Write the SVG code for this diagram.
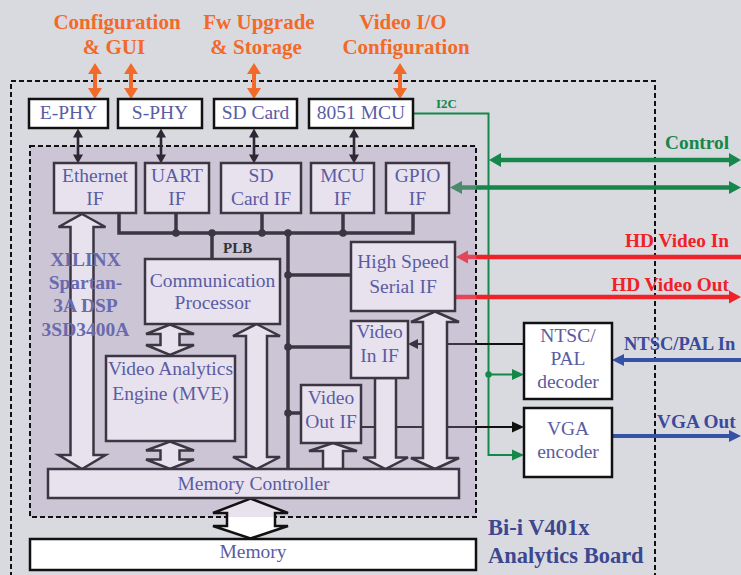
<svg xmlns="http://www.w3.org/2000/svg" width="741" height="575" viewBox="0 0 741 575">
<style>
.bg{fill:#d9dadf}
.dash{fill:none;stroke:#111;stroke-width:2;stroke-dasharray:5 3}
.fpga{fill:#cbc5d6;stroke:#111;stroke-width:2;stroke-dasharray:5 3}
.wbox{fill:#fff;stroke:#111;stroke-width:2.5}
.lbox{fill:#e8e2ee;stroke:#3b3641;stroke-width:2.5}
.blk{fill:#e8e2ee;stroke:#3b3641;stroke-width:2.5;stroke-linejoin:miter}
.t{font-family:"Liberation Serif","Times New Roman",serif;font-size:19.5px;fill:#5a5ca3;text-anchor:middle}
.bus{fill:none;stroke:#3b3641;stroke-width:3.5}
.dot{fill:#3b3641}
.org{font-family:"Liberation Serif","Times New Roman",serif;font-size:21px;font-weight:bold;fill:#f26a2a;text-anchor:middle}
.oarr{fill:#f26a2a}
.karr{fill:#2d2833}
.grn{fill:none;stroke:#15874a;stroke-width:2}
.grnf{fill:#15874a}
.rl{font-family:"Liberation Serif","Times New Roman",serif;font-size:19.3px;font-weight:bold}
.xil{font-family:"Liberation Serif","Times New Roman",serif;font-size:19.5px;font-weight:bold;fill:#6a6aae;text-anchor:middle}
</style>
<defs>
<path id="oa" d="M0,0 L7,11 L2,11 L2,25 L7,25 L0,36 L-7,25 L-2,25 L-2,11 L-7,11 Z"/>
<path id="ka" d="M0,0 L5,9 L1.3,9 L1.3,26 L5,26 L0,35 L-5,26 L-1.3,26 L-1.3,9 L-5,9 Z"/>
<linearGradient id="memgrad" gradientUnits="userSpaceOnUse" x1="0" y1="498.5" x2="0" y2="538.5">
<stop offset="0" stop-color="#e8e2ee"/><stop offset="0.46" stop-color="#e8e2ee"/><stop offset="0.46" stop-color="#fff"/><stop offset="1" stop-color="#fff"/>
</linearGradient>
</defs>
<rect class="bg" x="0" y="0" width="741" height="575"/>
<rect class="dash" x="11" y="81" width="644" height="560"/>
<rect class="fpga" x="30" y="146" width="446" height="371"/>

<g id="connectors">
<use href="#oa" class="oarr" x="95" y="63"/>
<use href="#oa" class="oarr" x="131" y="63"/>
<use href="#oa" class="oarr" x="254" y="63"/>
<use href="#oa" class="oarr" x="400" y="63"/>
<use href="#ka" class="karr" x="78" y="128.5"/>
<use href="#ka" class="karr" x="161" y="128.5"/>
<use href="#ka" class="karr" x="254" y="128.5"/>
<use href="#ka" class="karr" x="354" y="128.5"/>
<path class="bus" d="M119,213 V233 H413 V213 M176,213 V233 M262,213 V233 M343,213 V233 M212,233 V259 M288,233 V469 M288,275 H351 M288,347 H351 M288,413 H301"/>
<circle class="dot" cx="176" cy="233" r="3.8"/>
<circle class="dot" cx="212" cy="233" r="3.8"/>
<circle class="dot" cx="262" cy="233" r="3.8"/>
<circle class="dot" cx="288" cy="233" r="3.8"/>
<circle class="dot" cx="343" cy="233" r="3.8"/>
<circle class="dot" cx="288" cy="275" r="3.8"/>
<circle class="dot" cx="288" cy="347" r="3.8"/>
<circle class="dot" cx="288" cy="413" r="3.8"/>
<path class="grn" d="M413,113.5 H488.5 V455 H512 M488.5,374.5 H512"/>
<circle class="grnf" cx="488.5" cy="374.5" r="3.2"/>
<polygon class="grnf" points="524,374.5 512,369 512,380"/>
<polygon class="grnf" points="524,455 512,449.5 512,460.5"/>
<line x1="500" y1="160" x2="730" y2="160" stroke="#15874a" stroke-width="4.5"/>
<polygon class="grnf" points="489,160 501,153 501,167"/>
<polygon class="grnf" points="741,160 729,153 729,167"/>
<line x1="461" y1="187.5" x2="476" y2="187.5" stroke="#4b8a6b" stroke-width="4.5"/>
<polygon fill="#4b8a6b" points="450,187.5 462,181 462,194"/>
<line x1="476" y1="187.5" x2="730" y2="187.5" stroke="#15874a" stroke-width="4.5"/>
<polygon class="grnf" points="741,187.5 729,181 729,194"/>
<line x1="467" y1="257" x2="476" y2="257" stroke="#e24658" stroke-width="4.5"/>
<polygon fill="#e24658" points="456,257 468,250.5 468,263.5"/>
<line x1="476" y1="257" x2="741" y2="257" stroke="#ee2228" stroke-width="4.5"/>
<line x1="455" y1="297" x2="476" y2="297" stroke="#e24658" stroke-width="4.5"/>
<line x1="476" y1="297" x2="730" y2="297" stroke="#ee2228" stroke-width="4.5"/>
<polygon fill="#ee2228" points="741,297 729,290.5 729,303.5"/>
<line x1="623" y1="360" x2="741" y2="360" stroke="#3552a5" stroke-width="4"/>
<polygon fill="#3552a5" points="612,360 624,354 624,366"/>
<line x1="612" y1="436" x2="730" y2="436" stroke="#3552a5" stroke-width="4"/>
<polygon fill="#3552a5" points="741,436 729,430 729,442"/>
<line x1="417" y1="344" x2="476" y2="344" stroke="#3b3641" stroke-width="2"/>
<line x1="476" y1="344" x2="524" y2="344" stroke="#111" stroke-width="2"/>
<polygon fill="#3b3641" points="408,344 418,339 418,349"/>
<line x1="361" y1="427" x2="476" y2="427" stroke="#3b3641" stroke-width="2"/>
<line x1="476" y1="427" x2="513" y2="427" stroke="#111" stroke-width="2"/>
<polygon fill="#111" points="524,427 512,421.5 512,432.5"/>
<path class="blk" d="M82,214 L105.5,227 L93.5,227 L93.5,455 L105.5,455 L82,469 L58.5,455 L70.5,455 L70.5,227 L58.5,227 Z"/>
<path class="blk" d="M170,324.5 L194,334 L179.5,334 L179.5,345 L194,345 L170,355 L146,345 L160.5,345 L160.5,334 L146,334 Z"/>
<path class="blk" d="M170,441.5 L194,450.5 L179.5,450.5 L179.5,459.5 L194,459.5 L170,469 L146,459.5 L160.5,459.5 L160.5,450.5 L146,450.5 Z"/>
<path class="blk" d="M256.5,324 L280,336 L267,336 L267,457 L280,457 L256.5,469 L233,457 L246,457 L246,336 L233,336 Z"/>
<path class="blk" d="M333,443 L357,451 L343,451 L343,469 L323,469 L323,451 L309,451 Z"/>
<path class="blk" d="M375,378 L396,378 L396,457.5 L408,457.5 L385.5,469 L363,457.5 L375,457.5 Z"/>
<path class="blk" d="M435,311.5 L459,322 L447,322 L447,458 L459,458 L435,469 L411,458 L423,458 L423,322 L411,322 Z"/>
<path d="M250.5,498.5 L288,513 L275,513 L275,526 L288,526 L250.5,538.5 L213,526 L227,526 L227,513 L213,513 Z" fill="url(#memgrad)" stroke="#111" stroke-width="2.5"/>
</g>

<g id="ephy"><rect class="wbox" x="29" y="99" width="79" height="29"/><text class="t" x="68.5" y="119">E-PHY</text></g>
<g id="sphy"><rect class="wbox" x="118" y="99" width="84" height="29"/><text class="t" x="160" y="119">S-PHY</text></g>
<g id="sdcard"><rect class="wbox" x="214" y="99" width="83" height="29"/><text class="t" x="255.5" y="119">SD Card</text></g>
<g id="mcu8051"><rect class="wbox" x="309" y="99" width="104" height="29"/><text class="t" x="361" y="119">8051 MCU</text></g>

<g id="ethif"><rect class="lbox" x="54" y="163" width="82" height="50"/><text class="t" x="95" y="182">Ethernet</text><text class="t" x="95" y="205">IF</text></g>
<g id="uartif"><rect class="lbox" x="145" y="163" width="64" height="50"/><text class="t" x="177" y="182">UART</text><text class="t" x="177" y="205">IF</text></g>
<g id="sdif"><rect class="lbox" x="221" y="163" width="80" height="50"/><text class="t" x="261" y="182">SD</text><text class="t" x="261" y="205">Card IF</text></g>
<g id="mcuif"><rect class="lbox" x="311" y="163" width="63" height="50"/><text class="t" x="342.5" y="182">MCU</text><text class="t" x="342.5" y="205">IF</text></g>
<g id="gpioif"><rect class="lbox" x="386" y="163" width="63" height="50"/><text class="t" x="417.5" y="182">GPIO</text><text class="t" x="417.5" y="205">IF</text></g>

<g id="commproc"><rect class="lbox" x="145" y="259" width="135" height="65"/><text class="t" x="212.5" y="287">Communication</text><text class="t" x="212.5" y="309">Processor</text></g>
<g id="vae"><rect class="lbox" x="106" y="356" width="129" height="85"/><text class="t" x="170.5" y="375">Video Analytics</text><text class="t" x="170.5" y="400">Engine (MVE)</text></g>
<g id="hssif"><rect class="lbox" x="351" y="242" width="104" height="69"/><text class="t" x="403" y="268">High Speed</text><text class="t" x="403" y="293">Serial IF</text></g>
<g id="videoinif"><rect class="lbox" x="351" y="321" width="57" height="57"/><text class="t" x="379.5" y="338">Video</text><text class="t" x="379.5" y="362">In IF</text></g>
<g id="videooutif"><rect class="lbox" x="301" y="385" width="60" height="58"/><text class="t" x="331" y="404">Video</text><text class="t" x="331" y="428">Out IF</text></g>
<g id="memctrl"><rect class="lbox" x="48" y="469" width="411" height="29"/><text class="t" x="253.5" y="490">Memory Controller</text></g>
<g id="memory"><rect class="wbox" x="30" y="539" width="446" height="31"/><text class="t" x="253" y="558">Memory</text></g>
<g id="ntsc"><rect class="wbox" x="524" y="323" width="88" height="76"/><text class="t" x="568" y="342">NTSC/</text><text class="t" x="568" y="365">PAL</text><text class="t" x="568" y="388">decoder</text></g>
<g id="vga"><rect class="wbox" x="524" y="408" width="88" height="69"/><text class="t" x="568" y="435">VGA</text><text class="t" x="568" y="458">encoder</text></g>

<g id="labels">
<text class="org" x="117" y="29">Configuration</text>
<text class="org" x="114" y="54">&amp; GUI</text>
<text class="org" x="259" y="29">Fw Upgrade</text>
<text class="org" x="256" y="54">&amp; Storage</text>
<text class="org" x="403" y="29">Video I/O</text>
<text class="org" x="406" y="54">Configuration</text>
<text x="436" y="108" font-family="Liberation Serif, serif" font-size="13px" font-weight="bold" fill="#15874a">I2C</text>
<text class="rl" x="729" y="149" text-anchor="end" fill="#15874a">Control</text>
<text class="rl" x="729" y="247" text-anchor="end" fill="#ee2228">HD Video In</text>
<text class="rl" x="729" y="291" text-anchor="end" fill="#ee2228">HD Video Out</text>
<text x="624" y="350" font-family="Liberation Serif, serif" font-size="18.5px" font-weight="bold" fill="#3a4a9c">NTSC/PAL In</text>
<text class="rl" x="657" y="428" fill="#3a4a9c">VGA Out</text>
<text x="223" y="253" font-family="Liberation Serif, serif" font-size="15px" font-weight="bold" fill="#333">PLB</text>
<text class="xil" x="85.5" y="266">XILINX</text>
<text class="xil" x="85.5" y="289">Spartan-</text>
<text class="xil" x="85.5" y="312">3A DSP</text>
<text class="xil" x="85.5" y="336">3SD3400A</text>
<text x="488" y="535" font-family="Liberation Serif, serif" font-size="22.5px" font-weight="bold" fill="#3d4790">Bi-i V401x</text>
<text x="488" y="563" font-family="Liberation Serif, serif" font-size="22.5px" font-weight="bold" fill="#3d4790">Analytics Board</text>
</g>
</svg>
